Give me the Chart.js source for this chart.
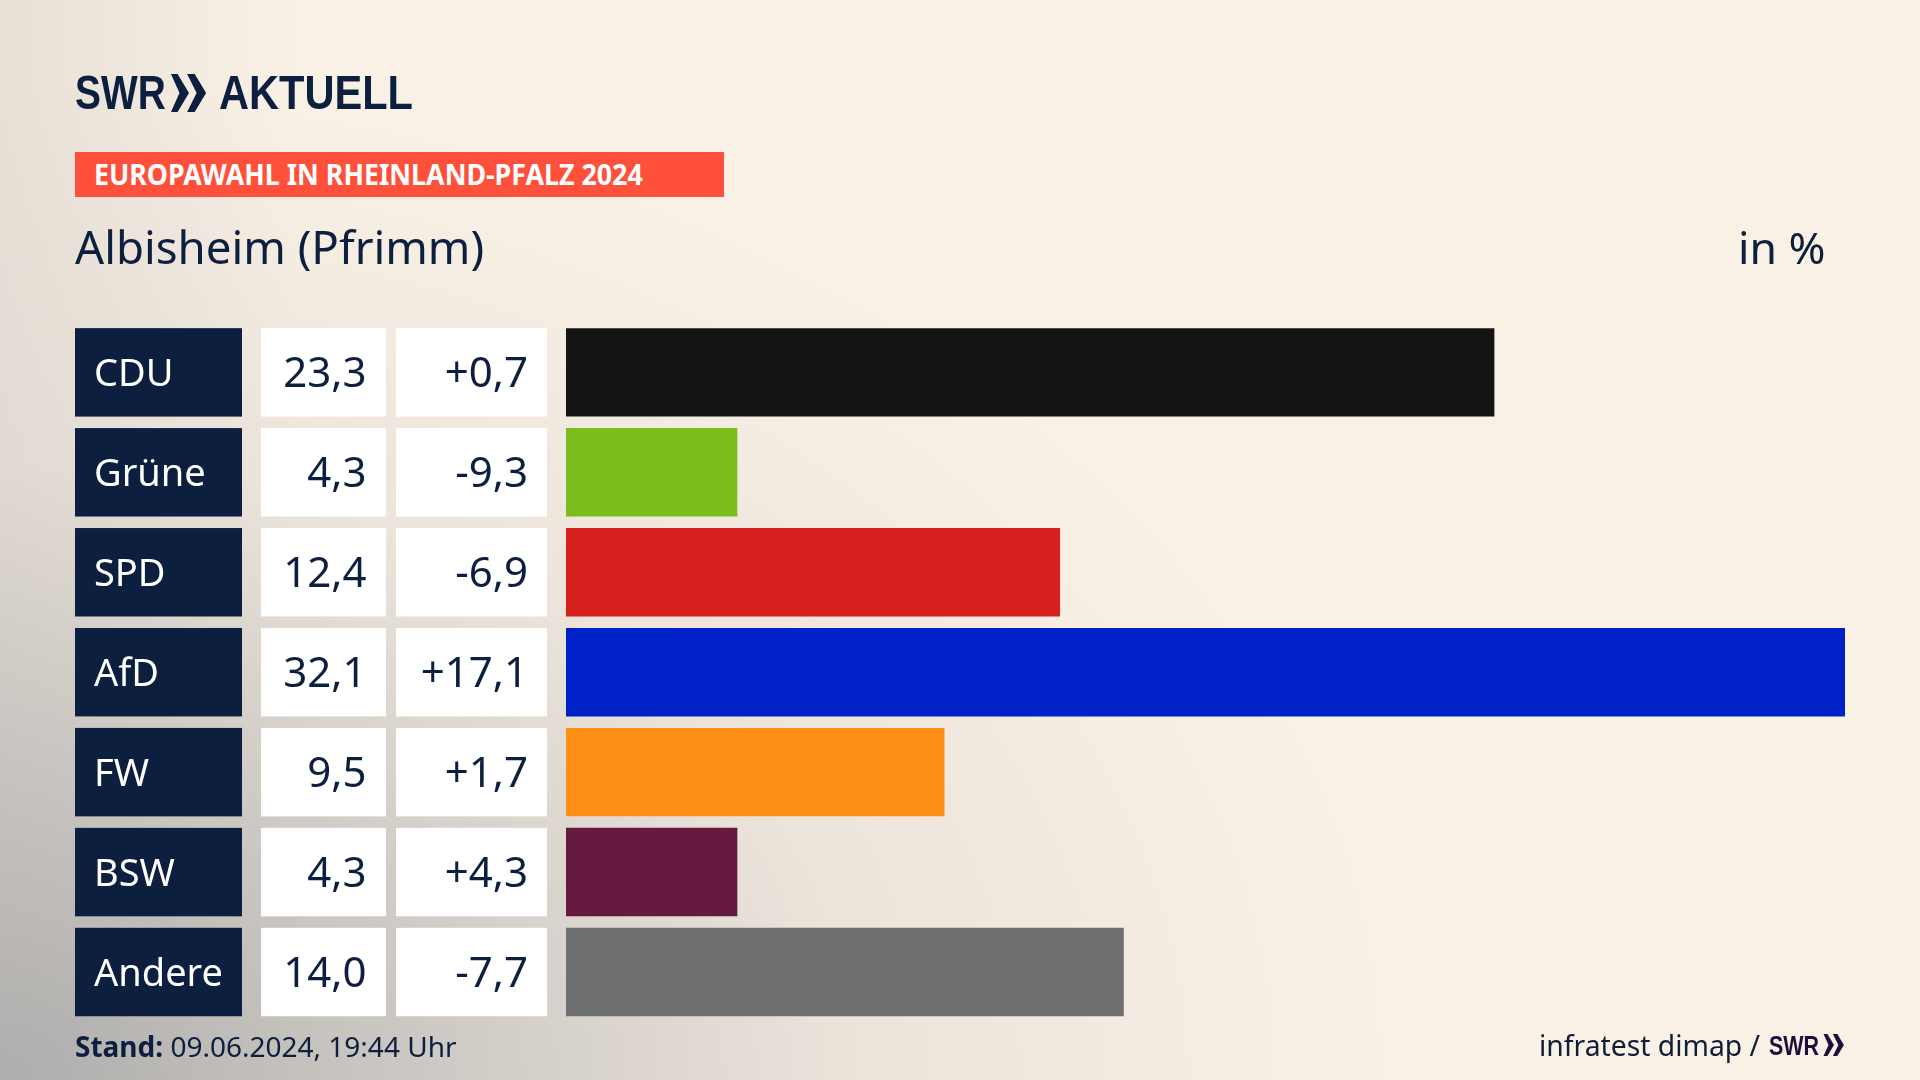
<!DOCTYPE html>
<html lang="de"><head><meta charset="utf-8">
<script src="https://cdn.jsdelivr.net/npm/chart.js@4"></script>
<style>
html,body{margin:0;padding:0;width:1920px;height:1080px;overflow:hidden}
body{position:relative;font-family:"Noto Sans",sans-serif;color:#0c1f3f;
background:#faf1e6;}
#bg{position:absolute;inset:0;background:
radial-gradient(ellipse 1400px 1000px at 0px 1080px,rgba(165,165,165,.85) 0%,rgba(180,178,176,.65) 30%,rgba(215,210,204,.4) 62%,rgba(250,241,230,0) 100%),
linear-gradient(90deg,rgba(190,185,180,.3) 0,rgba(250,241,230,0) 300px),#faf1e6}
canvas{position:absolute;left:0;top:0}
.t{position:absolute;white-space:nowrap;line-height:1;transform-origin:0 0}
</style></head><body>
<div id="bg"></div>
<canvas id="c" width="1920" height="1080" style="width:1920px;height:1080px"></canvas>
<div class="t" style="left:75px;top:69px;font:bold 48px 'Liberation Sans';line-height:1;color:#0c1f3f;transform:scaleX(.81)">SWR</div>
<svg style="position:absolute;left:170px;top:72px" width="38" height="42" viewBox="0 0 40 42"><path fill="#0c1f3f" d="M1 1 L8 1 L20 21 L8 41 L1 41 L10 21Z M18 1 L26 1 L38 21 L26 41 L18 41 L28 21Z"/></svg>
<div class="t" style="left:219px;top:69px;font:bold 48px 'Liberation Sans';line-height:1;color:#0c1f3f;transform:scaleX(.866)">AKTUELL</div>
<div style="position:absolute;left:75px;top:152px;width:649px;height:45px;background:#ff503c"></div>
<div class="t" style="left:94px;top:160px;font:bold 28px 'Noto Sans';line-height:1;color:#fff;transform:scaleX(.957)" id="banner">EUROPAWAHL IN RHEINLAND-PFALZ 2024</div>
<div class="t" style="left:75px;top:224px;font:45.6px 'Noto Sans';line-height:1" id="title">Albisheim (Pfrimm)</div>
<div class="t" style="left:1738px;top:225px;font:44.5px 'Noto Sans';line-height:1">in %</div>
<div class="t" style="left:75px;top:1032px;font:28px 'Noto Sans';line-height:1"><b>Stand:</b> 09.06.2024, 19:44 Uhr</div>
<div class="t" style="left:1539px;top:1031px;font:28.3px 'Noto Sans';line-height:1;color:#0f1e35">infratest dimap /</div>
<div class="t" style="left:1769px;top:1032px;font:bold 27.5px 'Liberation Sans';line-height:1;color:#1c0f3c;transform:scaleX(.78)">SWR</div>
<svg style="position:absolute;left:1823px;top:1033px" width="22" height="24" viewBox="0 0 40 42"><path fill="#1c0f3c" d="M1 1 L8 1 L20 21 L8 41 L1 41 L10 21Z M18 1 L26 1 L38 21 L26 41 L18 41 L28 21Z"/></svg>
<script>
const parties = ["CDU","Grüne","SPD","AfD","FW","BSW","Andere"];
const shares = [23.3,4.3,12.4,32.1,9.5,4.3,14.0];
const changes = ["+0,7","-9,3","-6,9","+17,1","+1,7","+4,3","-7,7"];
const colors = ["#141414","#7bbd1b","#d71f1d","#0020c8","#ff8f17","#66193f","#6f7072"];
const fmt = v => v.toFixed(1).replace(".", ",");
const NAVY = "#0c1f3f";
const tablePlugin = {
  id:"table",
  beforeDraw(chart){
    const c = chart.ctx, y = chart.scales.y;
    const h = y.getPixelForValue(1)-y.getPixelForValue(0);
    const bh = h*0.885;
    c.save();
    parties.forEach((p,i)=>{
      const cy = y.getPixelForValue(i), top = cy-bh/2;
      c.fillStyle = NAVY; c.fillRect(75,top,167,bh);
      c.fillStyle = "#fff"; c.fillRect(261,top,125,bh); c.fillRect(396,top,151,bh);
      c.fillStyle = NAVY; c.font = "42px 'Noto Sans'";
      c.textAlign = "right"; c.textBaseline = "middle";
      c.fillText(fmt(shares[i]),366.5,cy+3);
      c.fillText(changes[i],528,cy+3);
    });
    c.restore();
  }
};
new Chart(document.getElementById("c"),{
  type:"bar",
  data:{labels:parties,datasets:[{data:shares,backgroundColor:colors,barPercentage:0.885,categoryPercentage:1,borderWidth:0}]},
  options:{
    indexAxis:"y",responsive:false,animation:false,devicePixelRatio:1,
    layout:{padding:{left:94,right:75,top:322.4,bottom:58}},
    plugins:{legend:{display:false},tooltip:{enabled:false},title:{display:false}},
    scales:{
      x:{display:false,min:0,max:32.1},
      y:{
        afterFit(s){s.width=472;},
        grid:{display:false,drawTicks:false},border:{display:false},
        ticks:{crossAlign:"far",padding:0,labelOffset:3,color:"#fff",font:{family:"'Noto Sans'",size:38}}
      }
    }
  },
  plugins:[tablePlugin]
});
</script>
</body></html>
